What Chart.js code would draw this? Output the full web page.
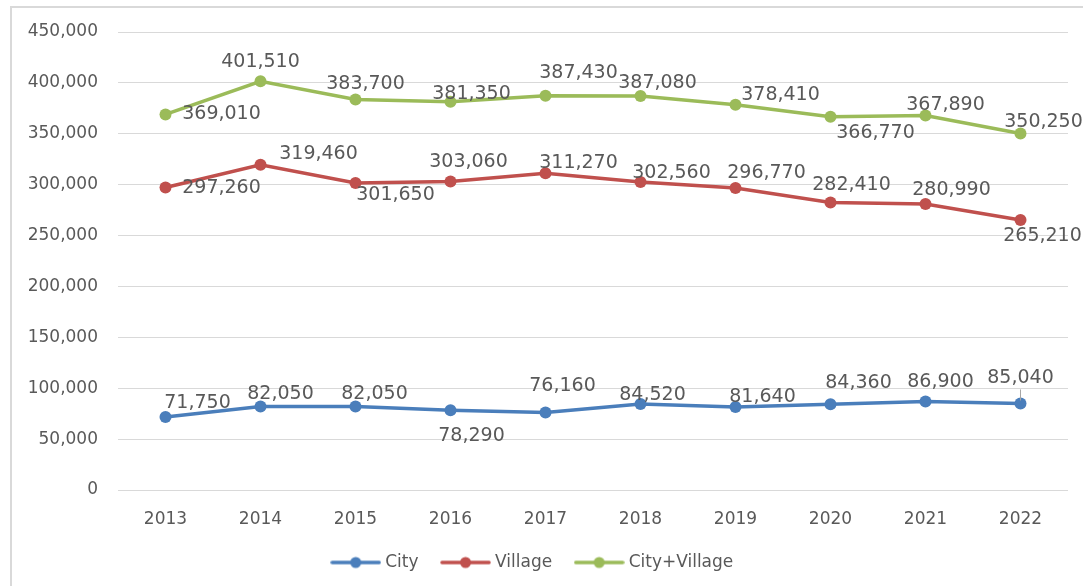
<!DOCTYPE html>
<html>
<head>
<meta charset="utf-8">
<script src="https://cdn.jsdelivr.net/npm/chart.js@4.4.1/dist/chart.umd.min.js"></script>
<style>
  html, body { margin: 0; padding: 0; background: #fff; overflow: hidden; }
  #frame { position: absolute; left: 10px; top: 6px; width: 1100px; height: 620px; border: 2px solid #d9d9d9; box-sizing: border-box; }
  #wrap { position: absolute; left: 0; top: 0; width: 1083px; height: 586px; }
</style>
</head>
<body>
<div id="frame"></div>
<div id="wrap"><canvas id="lineChart"></canvas></div>
<script>
const years = ['2013', '2014', '2015', '2016', '2017', '2018', '2019', '2020', '2021', '2022'];
const city = [71750, 82050, 82050, 78290, 76160, 84520, 81640, 84360, 86900, 85040];
const village = [297260, 319460, 301650, 303060, 311270, 302560, 296770, 282410, 280990, 265210];
const cityVillage = [369010, 401510, 383700, 381350, 387430, 387080, 378410, 366770, 367890, 350250];

// label offsets from each point [dx, dy], third flag = leader line
const cityLabelPos = [[32,-14],[20,-12],[19,-12],[21,26],[17,-26],[12,-9],[27,-10],[28,-21],[15,-19],[0,-25,true]];
const villageLabelPos = [[56,1],[58,-11],[40,12],[18,-19],[33,-10],[31,-9],[31,-15],[21,-18],[26,-14],[22,16]];
const cityVillageLabelPos = [[56,0],[0,-19],[10,-15],[21,-8],[33,-23],[17,-13],[45,-10],[45,16],[20,-11],[23,-11]];

const textColor = '#595959';
const fontFamily = '"DejaVu Sans", sans-serif';

function legendMarker(color) {
    const c = document.createElement('canvas');
    c.width = 51; c.height = 14;
    const g = c.getContext('2d');
    g.strokeStyle = color; g.lineWidth = 3.5; g.lineCap = 'round';
    g.beginPath(); g.moveTo(2, 7); g.lineTo(49, 7); g.stroke();
    g.fillStyle = color;
    g.beginPath(); g.arc(25.5, 7, 5.5, 0, Math.PI * 2); g.fill();
    return c;
}

const pointLabels = {
    id: 'pointLabels',
    afterDatasetsDraw(chart) {
        const ctx = chart.ctx;
        ctx.save();
        ctx.font = '19px ' + fontFamily;
        ctx.fillStyle = textColor;
        ctx.textAlign = 'center';
        ctx.textBaseline = 'middle';
        chart.data.datasets.forEach((ds, i) => {
            const meta = chart.getDatasetMeta(i);
            meta.data.forEach((pt, j) => {
                const off = ds.labelPos[j];
                const x = pt.x + off[0], y = pt.y + off[1];
                if (off[2]) {
                    ctx.strokeStyle = '#a6a6a6';
                    ctx.lineWidth = 1;
                    ctx.beginPath();
                    ctx.moveTo(pt.x, y + 11);
                    ctx.lineTo(pt.x, pt.y - 3);
                    ctx.stroke();
                }
                ctx.fillText(ds.data[j].toLocaleString('en-US'), x, y);
            });
        });
        ctx.restore();
    }
};

function series(label, data, color, labelPos) {
    return {
        label, data, labelPos,
        borderColor: color,
        backgroundColor: color,
        borderWidth: 3.5,
        pointStyle: 'circle',
        pointRadius: 6,
        pointHoverRadius: 6,
        pointBorderWidth: 0,
        tension: 0
    };
}

const ctx = document.getElementById('lineChart').getContext('2d');
const chartInstance = new Chart(ctx, {
    type: 'line',
    data: {
        labels: years,
        datasets: [
            series('City', city, '#4a7ebb', cityLabelPos),
            series('Village', village, '#c0504d', villageLabelPos),
            series('City+Village', cityVillage, '#9bbb59', cityVillageLabelPos)
        ]
    },
    options: {
        responsive: true,
        maintainAspectRatio: false,
        animation: false,
        layout: { padding: { top: 32, right: 15, left: 0, bottom: 5 } },
        plugins: {
            tooltip: { enabled: false },
            legend: {
                position: 'bottom',
                labels: {
                    usePointStyle: true,
                    pointStyleWidth: 42,
                    color: textColor,
                    padding: 26,
                    font: { family: fontFamily, size: 17 },
                    generateLabels(chart) {
                        return chart.data.datasets.map((ds, i) => ({
                            text: ds.label,
                            fillStyle: ds.borderColor,
                            strokeStyle: ds.borderColor,
                            pointStyle: legendMarker(ds.borderColor),
                            fontColor: textColor,
                            lineWidth: 0,
                            datasetIndex: i
                        }));
                    }
                }
            }
        },
        scales: {
            y: {
                min: 0,
                max: 450000,
                ticks: {
                    stepSize: 50000,
                    padding: 20,
                    color: textColor,
                    font: { family: fontFamily, size: 17 },
                    callback: v => v.toLocaleString('en-US')
                },
                grid: { color: '#d9d9d9', lineWidth: 1, drawTicks: false },
                border: { display: false },
                afterFit(s) { s.width = 118; }
            },
            x: {
                offset: true,
                ticks: {
                    padding: 19,
                    color: textColor,
                    font: { family: fontFamily, size: 17 }
                },
                grid: { display: false, drawTicks: false, offset: true },
                border: { display: false },
                afterFit(s) { s.height = 38; }
            }
        }
    },
    plugins: [pointLabels]
});
</script>
</body>
</html>
